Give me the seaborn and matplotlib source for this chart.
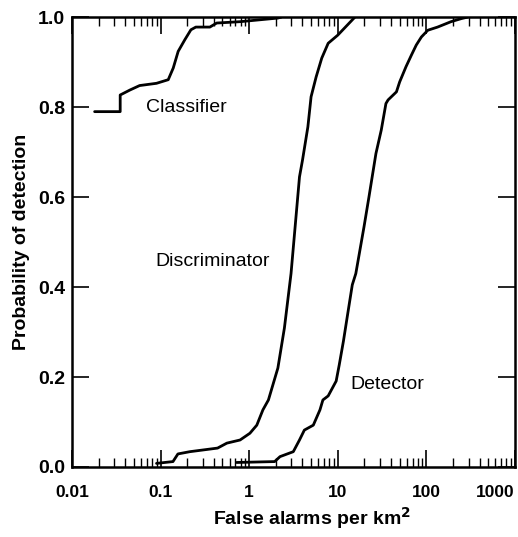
import numpy as np
import pandas as pd
import seaborn as sns
import matplotlib
import matplotlib.pyplot as plt
import matplotlib.ticker as ticker

matplotlib.use('Agg')

# curves (false alarms per km^2, probability of detection)
classifier_x = [0.018, 0.035, 0.035, 0.045, 0.058, 0.09, 0.122, 0.139, 0.158, 0.188,
                0.22, 0.25, 0.36, 0.43, 0.79, 2.1, 2.3]
classifier_y = [0.79, 0.79, 0.827, 0.838, 0.848, 0.853, 0.861, 0.887, 0.924, 0.95,
                0.972, 0.978, 0.978, 0.987, 0.99, 0.998, 1.0]

discriminator_x = [0.09, 0.138, 0.157, 0.214, 0.44, 0.56, 0.79, 1.02, 1.22, 1.43, 1.65,
                   2.11, 2.5, 2.97, 3.7, 4.0, 4.6, 5.0, 5.7, 6.6, 7.8, 10, 15.6]
discriminator_y = [0.008, 0.012, 0.029, 0.034, 0.042, 0.053, 0.06, 0.075, 0.093, 0.127, 0.149,
                   0.22, 0.309, 0.43, 0.645, 0.682, 0.756, 0.823, 0.867, 0.909, 0.942, 0.96, 1.0]

detector_x = [0.72, 1.94, 2.23, 3.15, 3.7, 4.2, 5.3, 6.3, 6.8, 7.8, 9.6, 10.4, 11.6, 12.9,
              14.6, 16, 19.8, 22.5, 27, 31, 35, 37, 46, 50, 59, 68, 77, 88, 104, 134,
              190, 250, 290]
detector_y = [0.01, 0.012, 0.023, 0.034, 0.06, 0.082, 0.093, 0.127, 0.149, 0.158, 0.191,
              0.227, 0.28, 0.338, 0.405, 0.43, 0.534, 0.60, 0.697, 0.749, 0.808, 0.816,
              0.834, 0.856, 0.89, 0.916, 0.938, 0.956, 0.971, 0.978, 0.99, 0.997, 1.0]

x_ticks = [0.01, 0.1, 1, 10, 100, 1000]
x_ticklabels = ['0.01', '0.1', '1', '10', '100', '1000']
y_ticks = [0.0, 0.2, 0.4, 0.6, 0.8, 1.0]
y_ticklabels = ['0.0', '0.2', '0.4', '0.6', '0.8', '1.0']

sns.set_style('ticks')
plt.rcParams['font.family'] = ['Liberation Sans', 'DejaVu Sans']
for key in ['text.color', 'axes.labelcolor', 'xtick.color', 'ytick.color', 'axes.edgecolor']:
    plt.rcParams[key] = 'black'

fig = plt.figure(figsize=(5.18, 5.37), dpi=100)
ax = fig.add_axes([0.139, 0.1304, 0.855, 0.8376])

curves = [(classifier_x, classifier_y), (discriminator_x, discriminator_y),
          (detector_x, detector_y)]
for xs, ys in curves:
    sns.lineplot(x=xs, y=ys, ax=ax, color='black', lw=2.0, sort=False, estimator=None)

ax.set_xscale('log')
ax.set_xlim(0.01, 1000)
ax.set_ylim(0, 1.0)

ax.set_xticks(x_ticks)
ax.set_xticklabels(x_ticklabels)
ax.xaxis.set_minor_locator(ticker.LogLocator(base=10, subs=np.arange(2, 10)))
ax.xaxis.set_minor_formatter(ticker.NullFormatter())
ax.set_yticks(y_ticks)
ax.set_yticklabels(y_ticklabels)

ax.tick_params(which='both', direction='in', top=True, right=True)
ax.tick_params(which='major', length=12, width=1.2)
ax.tick_params(which='minor', length=6.5, width=1.0)
ax.tick_params(axis='x', which='major', pad=13)
ax.tick_params(axis='y', which='major', pad=5)
for lab in ax.get_xticklabels():
    lab.set_fontsize(12.5)
    lab.set_fontweight('bold')
for lab in ax.get_yticklabels():
    lab.set_fontsize(14)
    lab.set_fontweight('bold')
ax.get_xticklabels()[-1].set_horizontalalignment('right')

for sp in ax.spines.values():
    sp.set_linewidth(1.8)

ax.set_xlabel('False alarms per km$^\\mathbf{2}$', fontsize=14, fontweight='bold')
ax.xaxis.set_label_coords(0.542, -0.085)
ax.set_ylabel('Probability of detection', fontsize=14, fontweight='bold', labelpad=6)

ax.text(0.068, 0.80, 'Classifier', fontsize=14, ha='left', va='center')
ax.text(0.0865, 0.456, 'Discriminator', fontsize=14, ha='left', va='center')
ax.text(14.0, 0.184, 'Detector', fontsize=14, ha='left', va='center')

fig.savefig('out.png', dpi=100)
